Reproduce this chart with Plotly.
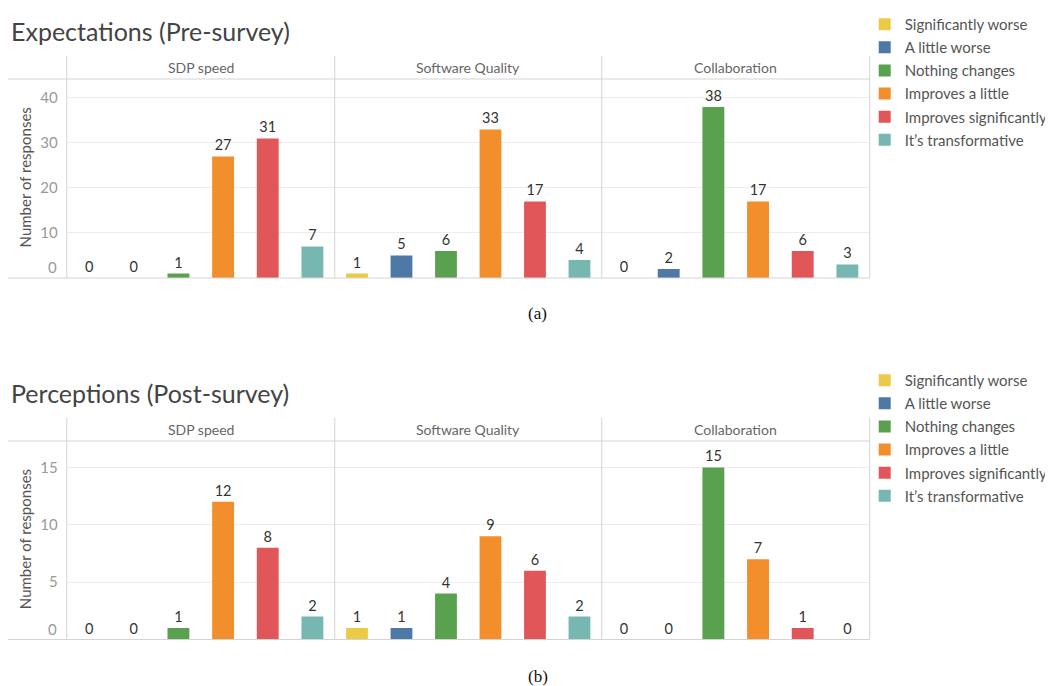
import plotly.graph_objects as go

categories = ["Significantly worse", "A little worse", "Nothing changes",
              "Improves a little", "Improves significantly", "It’s transformative"]
colors = ["#EDC948", "#4E79A7", "#59A14F", "#F28E2B", "#E15759", "#76B7B2"]
aspects = ["SDP speed", "Software Quality", "Collaboration"]

pre_sdp_speed = [0, 0, 1, 27, 31, 7]
pre_software_quality = [1, 5, 6, 33, 17, 4]
pre_collaboration = [0, 2, 38, 17, 6, 3]

post_sdp_speed = [0, 0, 1, 12, 8, 2]
post_software_quality = [1, 1, 4, 9, 6, 2]
post_collaboration = [0, 0, 15, 7, 1, 0]

pre_ticks = [10, 20, 30, 40]
post_ticks = [5, 10, 15]

titles = ["Expectations (Pre-survey)", "Perceptions (Post-survey)"]
captions = ["(a)", "(b)"]

OFF = 8  # page body margin
W, H = 1053 - OFF, 686 - OFF
def fx(x): return (x - OFF) / W
def fy(y): return 1 - (y - OFF) / H

FONT = "Lato"
panel_edges = [67, 336, 604, 873]
charts = [
    dict(data=[pre_sdp_speed, pre_software_quality, pre_collaboration], ticks=pre_ticks,
         ymax=44.2, head_top=56, head_bot=79, base=278, title_y=31, cap_y=313, leg_y=8),
    dict(data=[post_sdp_speed, post_software_quality, post_collaboration], ticks=post_ticks,
         ymax=17.3, head_top=418, head_bot=441, base=639.5, title_y=393, cap_y=676, leg_y=364),
]

fig = go.Figure()
layout = dict(width=W, height=H, margin=dict(l=0, r=0, t=0, b=0),
              plot_bgcolor="white", paper_bgcolor="white", barmode="overlay",
              font=dict(family=FONT, color="#555"), showlegend=True)
shapes, annotations = [], []
line_col = "#d4d4d4"

for c, ch in enumerate(charts):
    legname = "legend" if c == 0 else "legend2"
    for p in range(3):
        idx = c * 3 + p + 1
        vals = ch["data"][p]
        for k, cat in enumerate(categories):
            fig.add_trace(go.Bar(
                x=[cat], y=[vals[k]], name=cat, marker=dict(color=colors[k], line=dict(width=0)),
                width=0.49, text=[vals[k]], textposition="outside", cliponaxis=False,
                textfont=dict(size=14.5, color="#333", family=FONT),
                xaxis=f"x{idx}", yaxis=f"y{idx}", legend=legname,
                legendgroup=f"g{c}{k}", showlegend=(p == 0), hoverinfo="skip"))
        xa = dict(domain=[fx(panel_edges[p]), fx(panel_edges[p + 1])], anchor=f"y{idx}",
                  categoryorder="array", categoryarray=categories, range=[-0.5, 5.5],
                  showticklabels=False, showgrid=False, zeroline=False, showline=False, ticks="")
        ya = dict(domain=[fy(ch["base"]), fy(ch["head_bot"])], anchor=f"x{idx}",
                  range=[0, ch["ymax"]], tickvals=ch["ticks"], showticklabels=(p == 0),
                  showgrid=True, gridcolor="#ededed", gridwidth=1, zeroline=False, showline=False,
                  ticks="", ticklabelstandoff=8, tickfont=dict(size=15, color="#999", family=FONT))
        layout["xaxis" if idx == 1 else f"xaxis{idx}"] = xa
        layout["yaxis" if idx == 1 else f"yaxis{idx}"] = ya
        annotations.append(dict(text=aspects[p], xref="paper", yref="paper",
                                x=fx((panel_edges[p] + panel_edges[p + 1]) / 2),
                                y=fy((ch["head_top"] + ch["head_bot"]) / 2),
                                xanchor="center", yanchor="middle", showarrow=False,
                                font=dict(size=14, color="#666", family=FONT)))
    # zero tick label
    annotations.append(dict(text="0", xref="paper", yref=f"y{c*3+1}", x=fx(59), y=0,
                            xanchor="right", yanchor="bottom", yshift=0, showarrow=False,
                            font=dict(size=15, color="#999", family=FONT)))
    # axis title
    annotations.append(dict(text="Number of responses", xref="paper", yref="paper",
                            x=fx(25), y=fy((ch["base"] + ch["head_bot"]) / 2 - 1), textangle=-90,
                            xanchor="center", yanchor="middle", showarrow=False,
                            font=dict(size=15, color="#555", family=FONT)))
    # chart title
    annotations.append(dict(text=titles[c], xref="paper", yref="paper", x=fx(9), y=fy(ch["title_y"]),
                            xanchor="left", yanchor="middle", showarrow=False,
                            font=dict(size=25, color="#444", family=FONT)))
    # caption
    annotations.append(dict(text=captions[c], xref="paper", yref="paper", x=fx(540), y=fy(ch["cap_y"]),
                            xanchor="center", yanchor="middle", showarrow=False,
                            font=dict(size=17, color="#111", family="Liberation Serif")))
    # frame lines
    for xe in panel_edges:
        shapes.append(dict(type="line", xref="paper", yref="paper", x0=fx(xe), x1=fx(xe),
                           y0=fy(ch["head_top"]), y1=fy(ch["base"]), line=dict(color=line_col, width=1)))
    for yl in (ch["head_bot"], ch["base"]):
        shapes.append(dict(type="line", xref="paper", yref="paper", x0=fx(6), x1=fx(873),
                           y0=fy(yl), y1=fy(yl), line=dict(color=line_col, width=1)))
    layout[legname] = dict(x=fx(868), y=fy(ch["leg_y"]), xanchor="left", yanchor="top",
                           traceorder="grouped", tracegroupgap=0.6, bgcolor="rgba(0,0,0,0)",
                           font=dict(size=15, color="#555", family=FONT), itemclick=False)

layout["shapes"] = shapes
layout["annotations"] = annotations
fig.update_layout(**layout)
fig.write_html("out.html")
